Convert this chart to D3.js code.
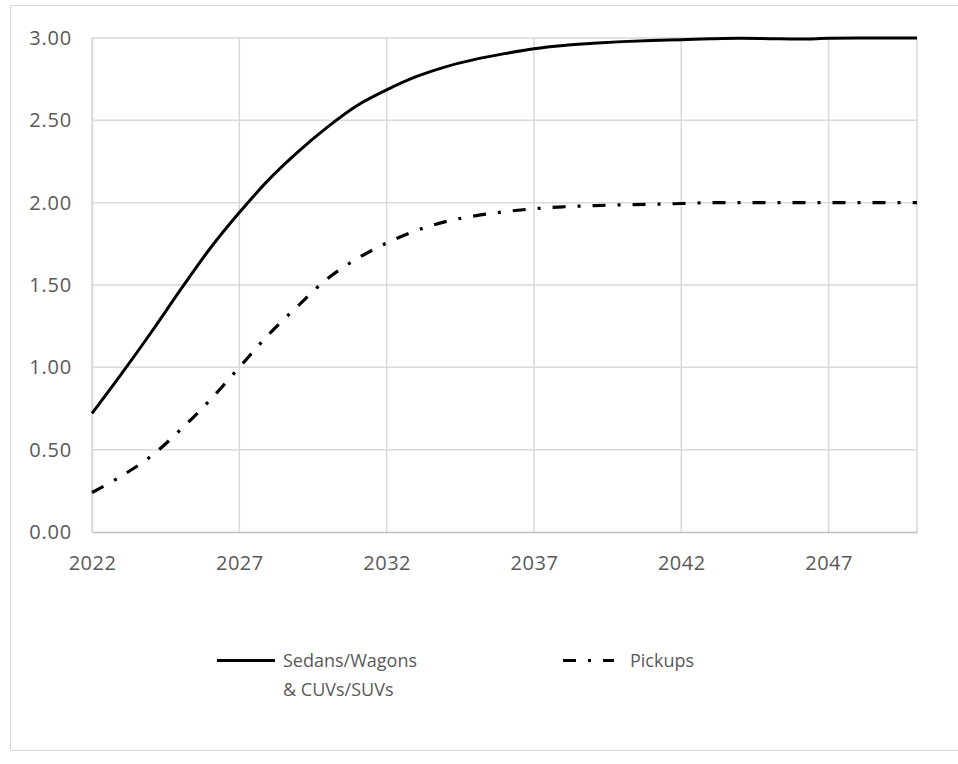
<!DOCTYPE html>
<html>
<head>
<meta charset="utf-8">
<script src="https://cdn.jsdelivr.net/npm/d3@7"></script>
<style>
  html, body { margin: 0; padding: 0; background: #fff; }
  svg { display: block; }
  text { font-family: "Open Sans", "Noto Sans", sans-serif; fill: #595959; }
</style>
</head>
<body>
<svg id="chart" width="958" height="764"></svg>
<script>
const years = [2022,2023,2024,2025,2026,2027,2028,2029,2030,2031,2032,2033,2034,2035,2036,2037,2038,2039,2040,2041,2042,2043,2044,2045,2046,2047,2048,2049,2050];
const sedans = [0.72,0.96,1.21,1.47,1.72,1.94,2.14,2.31,2.46,2.59,2.685,2.765,2.825,2.87,2.905,2.935,2.955,2.968,2.978,2.985,2.99,2.995,2.998,2.996,2.994,2.998,3.0,3.0,3.0];
const pickups = [0.24,0.34,0.46,0.62,0.80,1.00,1.20,1.375,1.54,1.66,1.755,1.83,1.885,1.92,1.945,1.963,1.975,1.982,1.987,1.99,1.995,2.0,2.0,2.0,2.0,2.0,2.0,2.0,2.0];
const xTickValues = [2022,2027,2032,2037,2042,2047];
const yTickValues = [0,0.5,1.0,1.5,2.0,2.5,3.0];
const seriesNames = ["Sedans/Wagons\n& CUVs/SUVs", "Pickups"];

const svg = d3.select("#chart");
const plot = {left: 92, right: 917, top: 38, bottom: 532};

// outer border
svg.append("rect").attr("x", 10.5).attr("y", 5.5).attr("width", 960).attr("height", 745)
  .attr("fill", "none").attr("stroke", "#d9d9d9").attr("stroke-width", 1);

const x = d3.scaleLinear().domain([2022, 2050]).range([plot.left, plot.right]);
const y = d3.scaleLinear().domain([0, 3]).range([plot.bottom, plot.top]);

// horizontal gridlines
svg.append("g").selectAll("line").data(yTickValues.filter(v => v > 0)).join("line")
  .attr("x1", plot.left).attr("x2", plot.right)
  .attr("y1", d => y(d)).attr("y2", d => y(d))
  .attr("stroke", "#d9d9d9").attr("stroke-width", 1.5);

// vertical gridlines
svg.append("g").selectAll("line").data(xTickValues.concat([2050])).join("line")
  .attr("x1", d => x(d)).attr("x2", d => x(d))
  .attr("y1", plot.top).attr("y2", plot.bottom)
  .attr("stroke", "#d9d9d9").attr("stroke-width", 1.5);

// bottom axis
const xAxis = d3.axisBottom(x).tickValues(xTickValues).tickFormat(d3.format("d")).tickSize(0).tickPadding(24);
const gx = svg.append("g").attr("transform", `translate(0,${plot.bottom})`).call(xAxis);
gx.select(".domain").attr("stroke", "#bfbfbf").attr("stroke-width", 1.5);
gx.selectAll("text").attr("font-size", 20).attr("fill", "#595959")
  .style("font-family", '"Open Sans", sans-serif').style("letter-spacing", "0.5px");

// left axis
const yAxis = d3.axisLeft(y).tickValues(yTickValues).tickFormat(d3.format(".2f")).tickSize(0).tickPadding(20);
const gy = svg.append("g").attr("transform", `translate(${plot.left},0)`).call(yAxis);
gy.select(".domain").attr("stroke", "#d9d9d9").attr("stroke-width", 1.5);
gy.selectAll("text").attr("font-size", 20).attr("fill", "#595959")
  .style("font-family", '"Open Sans", sans-serif').style("letter-spacing", "0.8px");

// lines
const line = (vals) => d3.line().x((d, i) => x(years[i])).y(d => y(d)).curve(d3.curveCatmullRom.alpha(0.5))(vals);

svg.append("path").attr("d", line(sedans)).attr("fill", "none")
  .attr("stroke", "#000").attr("stroke-width", 3);
svg.append("path").attr("d", line(pickups)).attr("fill", "none")
  .attr("stroke", "#000").attr("stroke-width", 3.2)
  .attr("stroke-dasharray", "13,12,3,12");

// legend
const lg = svg.append("g");
lg.append("line").attr("x1", 217).attr("x2", 275).attr("y1", 660.5).attr("y2", 660.5)
  .attr("stroke", "#000").attr("stroke-width", 3);
const t1 = lg.append("text").attr("x", 283).attr("y", 667).attr("font-size", 18);
seriesNames[0].split("\n").forEach((s, i) => {
  t1.append("tspan").attr("x", 283).attr("dy", i === 0 ? 0 : 29).text(s);
});
lg.append("line").attr("x1", 563).attr("x2", 614).attr("y1", 660.5).attr("y2", 660.5)
  .attr("stroke", "#000").attr("stroke-width", 3.2)
  .attr("stroke-dasharray", "13,12,3,12");
lg.append("text").attr("x", 630).attr("y", 667).attr("font-size", 18).text(seriesNames[1]);
</script>
</body>
</html>
